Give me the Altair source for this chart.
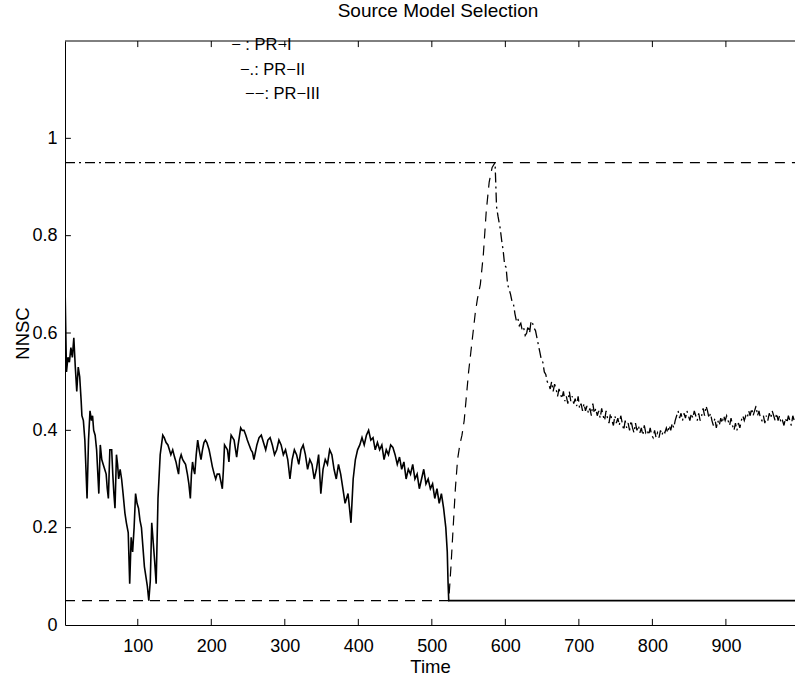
import altair as alt
import pandas as pd

# ---- series values (time, NNSC) ----
pr1_t = [1, 3, 5, 7, 9, 11, 13, 15, 17, 19, 21, 23, 24, 26, 28, 29, 31, 33, 35, 37,
         38.5, 40, 42, 44, 46, 47, 49, 51, 53, 55, 57, 58.5, 60, 62, 64.5, 66, 67.5, 69, 71, 72.5,
         74, 76, 78, 80, 82.5, 84.5, 87, 89, 91, 93, 95, 97, 99, 101, 103, 105, 107, 109, 111, 113,
         115, 117, 119, 121, 123, 125, 127.5, 130.5, 134, 136, 138.5, 141, 143, 145, 147.5, 150, 152, 154, 155.5, 157,
         159, 161, 163, 165, 167.5, 169.5, 171.5, 173, 174.5, 176, 177.5, 179.5, 181.5, 183.5, 186, 188, 190, 192, 194, 197,
         199, 201.5, 204, 206, 208, 211, 213, 215, 216.5, 218, 220, 222, 224, 225.5, 227, 229, 231, 233, 234.5, 236.5,
         238.5, 240, 242, 244.5, 247, 249, 251.5, 254, 256, 258, 260, 262, 265, 268, 271, 274, 277, 280, 283, 286,
         289, 292, 295, 298, 301, 304, 307, 310, 313, 316, 319, 322, 325, 328, 331, 334, 337, 340, 343, 346,
         349, 352, 355, 358, 361, 364, 367, 370, 373, 376, 379, 382, 386, 390, 393, 396, 399, 402, 405, 408,
         411, 414, 417, 420, 423, 426, 429, 432, 435, 438, 441, 444, 447, 450, 453, 456, 459, 462, 465, 468,
         471, 474, 477, 480, 483, 486, 489, 492, 495, 498, 501, 504, 507, 510, 513, 516, 519, 521, 522, 523,
         1000]
pr1_v = [0.70, 0.52, 0.55, 0.54, 0.57, 0.55, 0.59, 0.53, 0.48, 0.53, 0.51, 0.46, 0.43, 0.42, 0.38, 0.34, 0.26, 0.38, 0.44, 0.42,
         0.43, 0.40, 0.39, 0.36, 0.30, 0.27, 0.37, 0.34, 0.33, 0.32, 0.31, 0.28, 0.26, 0.36, 0.36, 0.31, 0.27, 0.24, 0.35, 0.33,
         0.30, 0.32, 0.30, 0.27, 0.23, 0.21, 0.19, 0.085, 0.18, 0.15, 0.20, 0.27, 0.25, 0.24, 0.215, 0.20, 0.16, 0.12, 0.10, 0.08,
         0.05, 0.09, 0.21, 0.17, 0.13, 0.085, 0.26, 0.35, 0.39, 0.385, 0.375, 0.37, 0.36, 0.35, 0.36, 0.345, 0.335, 0.32, 0.31, 0.34,
         0.35, 0.34, 0.335, 0.33, 0.31, 0.29, 0.26, 0.31, 0.335, 0.32, 0.31, 0.35, 0.38, 0.36, 0.34, 0.36, 0.375, 0.38, 0.375, 0.36,
         0.345, 0.325, 0.31, 0.30, 0.31, 0.31, 0.295, 0.28, 0.32, 0.37, 0.365, 0.36, 0.335, 0.37, 0.39, 0.385, 0.38, 0.36, 0.345, 0.37,
         0.39, 0.405, 0.40, 0.40, 0.39, 0.38, 0.37, 0.36, 0.355, 0.34, 0.355, 0.37, 0.385, 0.39, 0.375, 0.36, 0.38, 0.385, 0.37, 0.35,
         0.36, 0.38, 0.37, 0.35, 0.36, 0.34, 0.30, 0.34, 0.36, 0.35, 0.33, 0.36, 0.37, 0.35, 0.32, 0.34, 0.33, 0.30, 0.32, 0.35,
         0.27, 0.32, 0.34, 0.33, 0.36, 0.35, 0.32, 0.30, 0.33, 0.31, 0.28, 0.25, 0.27, 0.21, 0.30, 0.34, 0.36, 0.37, 0.385, 0.37,
         0.39, 0.40, 0.38, 0.385, 0.36, 0.375, 0.36, 0.37, 0.34, 0.36, 0.35, 0.37, 0.365, 0.35, 0.33, 0.345, 0.32, 0.335, 0.30, 0.32,
         0.31, 0.33, 0.30, 0.31, 0.28, 0.30, 0.32, 0.29, 0.30, 0.28, 0.29, 0.26, 0.28, 0.25, 0.27, 0.24, 0.20, 0.15, 0.09, 0.05,
         0.05]

pr2_t = [1, 586, 588, 590, 593, 595, 597, 599, 601, 603, 605, 607, 609, 611, 613, 615, 617, 619, 621, 623,
         625, 627, 629, 631, 633, 635, 637, 639, 641, 643, 645, 647, 649, 651, 653, 655, 657, 659, 661, 663,
         665, 667, 669, 671, 673, 675, 677, 679, 681, 683, 685, 687, 689, 691, 693, 695, 697, 699, 701, 703,
         705, 707, 709, 711, 713, 715, 717, 719, 721, 723, 725, 727, 729, 731, 733, 735, 737, 739, 741, 743,
         745, 747, 749, 751, 753, 755, 757, 759, 761, 763, 765, 767, 769, 771, 773, 775, 777, 779, 781, 783,
         785, 787, 789, 791, 793, 795, 797, 799, 801, 803, 805, 807, 809, 811, 813, 815, 817, 819, 821, 823,
         825, 827, 829, 831, 833, 835, 837, 839, 841, 843, 845, 847, 849, 851, 853, 855, 857, 859, 861, 863,
         865, 867, 869, 871, 873, 875, 877, 879, 881, 883, 885, 887, 889, 891, 893, 895, 897, 899, 901, 903,
         905, 907, 909, 911, 913, 915, 917, 919, 921, 923, 925, 927, 929, 931, 933, 935, 937, 939, 941, 943,
         945, 947, 949, 951, 953, 955, 957, 959, 961, 963, 965, 967, 969, 971, 973, 975, 977, 979, 981, 983,
         985, 987, 989, 991, 993, 995, 997, 1000]
pr2_v = [0.95, 0.95, 0.86, 0.84, 0.815, 0.79, 0.77, 0.74, 0.735, 0.70, 0.69, 0.68, 0.665, 0.66, 0.64, 0.625, 0.63, 0.615, 0.62, 0.605,
         0.61, 0.595, 0.60, 0.615, 0.60, 0.625, 0.62, 0.61, 0.605, 0.59, 0.575, 0.56, 0.545, 0.54, 0.52, 0.515, 0.50, 0.495, 0.485, 0.50,
         0.48, 0.495, 0.485, 0.47, 0.485, 0.475, 0.465, 0.48, 0.46, 0.47, 0.455, 0.48, 0.46, 0.47, 0.455, 0.465, 0.45, 0.47, 0.445, 0.455,
         0.44, 0.455, 0.44, 0.45, 0.435, 0.445, 0.43, 0.455, 0.435, 0.445, 0.43, 0.44, 0.425, 0.445, 0.43, 0.42, 0.44, 0.425, 0.415, 0.435,
         0.42, 0.41, 0.43, 0.415, 0.425, 0.41, 0.43, 0.415, 0.40, 0.42, 0.405, 0.415, 0.40, 0.42, 0.405, 0.395, 0.415, 0.40, 0.41, 0.395,
         0.405, 0.39, 0.41, 0.395, 0.40, 0.39, 0.405, 0.39, 0.385, 0.40, 0.385, 0.395, 0.385, 0.40, 0.39, 0.40, 0.395, 0.405, 0.395, 0.41,
         0.40, 0.415, 0.405, 0.42, 0.43, 0.44, 0.425, 0.435, 0.42, 0.435, 0.425, 0.44, 0.43, 0.42, 0.435, 0.425, 0.44, 0.43, 0.42, 0.435,
         0.42, 0.43, 0.445, 0.43, 0.45, 0.44, 0.425, 0.435, 0.42, 0.41, 0.425, 0.405, 0.42, 0.41, 0.425, 0.415, 0.43, 0.42, 0.43, 0.42,
         0.41, 0.425, 0.41, 0.40, 0.415, 0.40, 0.415, 0.405, 0.42, 0.43, 0.42, 0.43, 0.425, 0.44, 0.43, 0.445, 0.43, 0.44, 0.45, 0.43,
         0.44, 0.425, 0.42, 0.43, 0.415, 0.43, 0.42, 0.435, 0.425, 0.44, 0.43, 0.42, 0.435, 0.42, 0.43, 0.415, 0.42, 0.41, 0.425, 0.415,
         0.43, 0.42, 0.41, 0.43, 0.42, 0.415, 0.425, 0.415]

pr3_t = [1, 523, 526, 529, 532, 535, 538, 541, 544, 547, 550, 553, 556, 559, 562, 566, 570, 574, 578, 582, 586, 1000]
pr3_v = [0.05, 0.05, 0.12, 0.20, 0.28, 0.34, 0.37, 0.39, 0.42, 0.47, 0.52, 0.56, 0.60, 0.64, 0.67, 0.70, 0.76, 0.85, 0.91, 0.94, 0.95, 0.95]

x_ticks = [100, 200, 300, 400, 500, 600, 700, 800, 900]
y_ticks = [0, 0.2, 0.4, 0.6, 0.8, 1]
legend_labels = ["\u2212 : PR\u2212I", "\u2212.: PR\u2212II", "\u2212\u2212: PR\u2212III"]

# ---- layout ----
FONT = "Liberation Sans"
X_MIN, X_MAX = 1, 994
Y_MIN, Y_MAX = 0, 1.2
TICK_DX = 8        # inward tick length in time units
TICK_DY = 0.0125   # inward tick length in NNSC units

xs = alt.Scale(domain=[X_MIN, X_MAX], nice=False, zero=False)
ys = alt.Scale(domain=[Y_MIN, Y_MAX], nice=False, zero=False)

x_axis = alt.Axis(values=x_ticks, tickSize=0, grid=False, domain=True, domainColor="black",
                  domainWidth=1, labelFont=FONT, labelFontSize=18, labelColor="black",
                  labelPadding=12, labelFlush=False, title="Time", titleFont=FONT,
                  titleFontSize=18.5, titleFontWeight="normal", titleColor="black", titlePadding=2)
y_axis = alt.Axis(values=y_ticks, format="~g", tickSize=0, grid=False, domain=True,
                  domainColor="black", domainWidth=1, labelFont=FONT, labelFontSize=18,
                  labelColor="black", labelPadding=8, labelFlush=False, title="NNSC", titleFont=FONT,
                  titleFontSize=18.5, titleFontWeight="normal", titleColor="black", titlePadding=-1)

X = lambda f: alt.X(f, type="quantitative", scale=xs, axis=x_axis)
Y = lambda f: alt.Y(f, type="quantitative", scale=ys, axis=y_axis)

df1 = pd.DataFrame({"t": pr1_t, "v": pr1_v})
df2 = pd.DataFrame({"t": pr2_t, "v": pr2_v})
df3 = pd.DataFrame({"t": pr3_t, "v": pr3_v})

line1 = alt.Chart(df1).mark_line(color="black", strokeWidth=1.6, clip=True).encode(
    x=X("t"), y=Y("v"))
line2 = alt.Chart(df2).mark_line(color="black", strokeWidth=1.3, strokeDash=[10, 4, 2, 4], clip=True).encode(
    x=X("t"), y=Y("v"))
line3 = alt.Chart(df3).mark_line(color="black", strokeWidth=1.2, strokeDash=[10, 7], clip=True).encode(
    x=X("t"), y=Y("v"))

# frame: top border and inward ticks
top_border = alt.Chart(pd.DataFrame({"a": [X_MIN], "b": [X_MAX], "y": [Y_MAX]})).mark_rule(
    color="black", strokeWidth=1).encode(x=X("a"), x2="b", y=Y("y"))

bt = pd.DataFrame({"t": x_ticks, "y0": [Y_MIN] * len(x_ticks), "y1": [Y_MIN + TICK_DY] * len(x_ticks)})
bottom_ticks = alt.Chart(bt).mark_rule(color="black", strokeWidth=1).encode(
    x=X("t"), y=Y("y0"), y2="y1")
tt = pd.DataFrame({"t": x_ticks, "y0": [Y_MAX] * len(x_ticks), "y1": [Y_MAX - TICK_DY] * len(x_ticks)})
top_ticks = alt.Chart(tt).mark_rule(color="black", strokeWidth=1).encode(
    x=X("t"), y=Y("y0"), y2="y1")
lt = pd.DataFrame({"v": y_ticks[1:], "x0": [X_MIN] * (len(y_ticks) - 1), "x1": [X_MIN + TICK_DX] * (len(y_ticks) - 1)})
left_ticks = alt.Chart(lt).mark_rule(color="black", strokeWidth=1).encode(
    y=Y("v"), x=X("x0"), x2="x1")

# in-plot line-style key
key = pd.DataFrame({"label": legend_labels, "t": [227, 239, 246], "v": [1.191, 1.141, 1.091]})
key_text = alt.Chart(key).mark_text(font=FONT, fontSize=16.5, color="black", align="left",
                                    baseline="middle").encode(x=X("t"), y=Y("v"), text="label:N")

chart = alt.layer(line1, line2, line3, top_border, bottom_ticks, top_ticks, left_ticks, key_text).properties(
    width=730, height=584,
    title=alt.TitleParams("Source Model Selection", font=FONT, fontSize=19, fontWeight="normal",
                          color="black", anchor="middle", baseline="alphabetic", offset=14,
                          frame="group", dx=8, dy=13),
    autosize=alt.AutoSizeParams(type="none"),
    padding={"left": 65, "top": 41, "right": 0, "bottom": 56},
    background="white",
).configure_view(stroke=None)

chart.save("out.html", embed_options={"renderer": "svg", "actions": False})
